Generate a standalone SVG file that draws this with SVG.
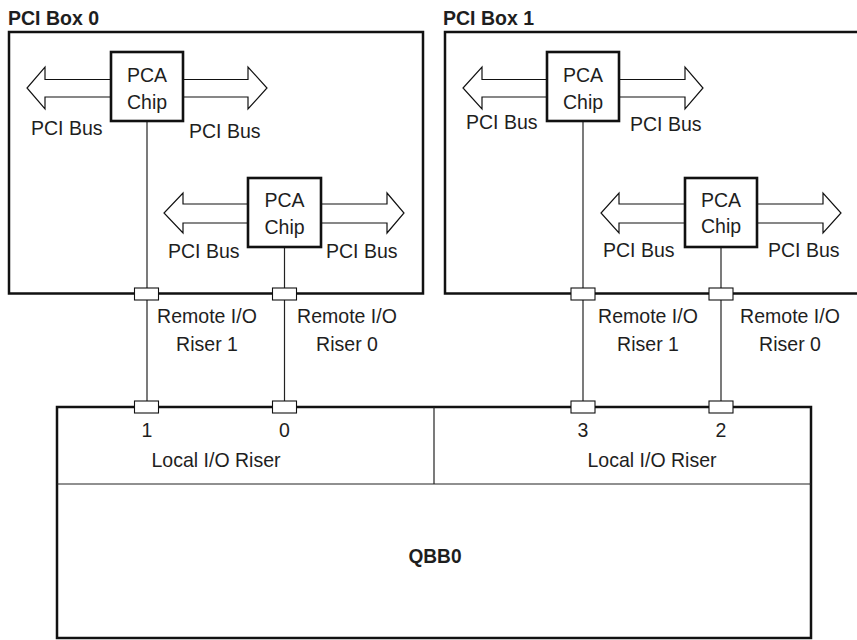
<svg xmlns="http://www.w3.org/2000/svg" width="857" height="640" viewBox="0 0 857 640">
<style>
text{font-family:"Liberation Sans",Arial,sans-serif;font-size:21px;fill:#1e1e1e}
.b{font-weight:bold}
.t{font-size:19.5px}
.m{text-anchor:middle}
.box{fill:none;stroke:#111;stroke-width:2.5}
.chip{fill:#fff;stroke:#111;stroke-width:2.6}
.arr{fill:#fff;stroke:#111;stroke-width:1.2;stroke-linejoin:miter}
.conn{fill:#fff;stroke:#111;stroke-width:1.1}
.ln{stroke:#222;stroke-width:1.2;fill:none}
</style>
<rect width="857" height="640" fill="#fff"/>
<g id="connectors">
<line class="ln" x1="147" y1="121" x2="147" y2="401"/>
<line class="ln" x1="284.5" y1="247" x2="284.5" y2="401"/>
<line class="ln" x1="583" y1="121" x2="583" y2="401"/>
<line class="ln" x1="721" y1="247" x2="721" y2="401"/>
</g>
<g id="pci-box-0">
<text class="b t" x="8" y="25">PCI Box 0</text>
<rect class="box" x="9" y="32" width="414" height="261.5"/>
</g>
<g id="pci-box-1">
<text class="b t" x="443" y="25">PCI Box 1</text>
<rect class="box" x="445" y="32" width="430" height="261.5"/>
</g>
<g id="box0-chip-a">
<polygon class="arr" points="111,79.5 45,79.5 45,67 27,88 45,109 45,97 111,97"/>
<polygon class="arr" points="183,79.5 248,79.5 248,67 267,88 248,109 248,97 183,97"/>
<rect class="chip" x="111" y="52" width="72" height="69"/>
<text class="m" transform="translate(147 82) scale(0.93 1)">PCA</text>
<text class="m" transform="translate(147 109) scale(0.93 1)">Chip</text>
<text transform="translate(31 135) scale(0.93 1)">PCI Bus</text>
<text transform="translate(189 138) scale(0.93 1)">PCI Bus</text>
</g>
<g id="box0-chip-b">
<polygon class="arr" points="248,204 183,204 183,193 164,213 183,233 183,223 248,223"/>
<polygon class="arr" points="321,204 387,204 387,193 404,213 387,233 387,223 321,223"/>
<rect class="chip" x="248" y="178" width="73" height="69"/>
<text class="m" transform="translate(284.5 207) scale(0.93 1)">PCA</text>
<text class="m" transform="translate(284.5 234) scale(0.93 1)">Chip</text>
<text transform="translate(168 258) scale(0.93 1)">PCI Bus</text>
<text transform="translate(326 258) scale(0.93 1)">PCI Bus</text>
</g>
<g id="box1-chip-a">
<polygon class="arr" points="547,79.5 482,79.5 482,67 463,88 482,109 482,97 547,97"/>
<polygon class="arr" points="619,79.5 685,79.5 685,67 703,88 685,109 685,97 619,97"/>
<rect class="chip" x="547" y="52" width="72" height="69"/>
<text class="m" transform="translate(583 82) scale(0.93 1)">PCA</text>
<text class="m" transform="translate(583 109) scale(0.93 1)">Chip</text>
<text transform="translate(466 129) scale(0.93 1)">PCI Bus</text>
<text transform="translate(630 131) scale(0.93 1)">PCI Bus</text>
</g>
<g id="box1-chip-b">
<polygon class="arr" points="685,204 619,204 619,193 601,213 619,233 619,223 685,223"/>
<polygon class="arr" points="757,204 823,204 823,193 841,213 823,233 823,223 757,223"/>
<rect class="chip" x="685" y="178" width="72" height="69"/>
<text class="m" transform="translate(721 207) scale(0.93 1)">PCA</text>
<text class="m" transform="translate(721 233) scale(0.93 1)">Chip</text>
<text transform="translate(603 257) scale(0.93 1)">PCI Bus</text>
<text transform="translate(768 257) scale(0.93 1)">PCI Bus</text>
</g>
<g id="qbb0">
<rect class="box" x="57" y="407" width="754" height="231"/>
<line class="ln" x1="434" y1="407" x2="434" y2="484"/>
<line class="ln" x1="57" y1="484" x2="811" y2="484"/>
<text class="m" transform="translate(216 467) scale(0.93 1)">Local I/O Riser</text>
<text class="m" transform="translate(652 467) scale(0.93 1)">Local I/O Riser</text>
<text class="m b" transform="translate(435 563) scale(0.91 1)">QBB0</text>
</g>
<g id="riser-labels">
<text class="m" transform="translate(207 323) scale(0.93 1)">Remote I/O</text>
<text class="m" transform="translate(207 351) scale(0.93 1)">Riser 1</text>
<text class="m" transform="translate(347 323) scale(0.93 1)">Remote I/O</text>
<text class="m" transform="translate(347 351) scale(0.93 1)">Riser 0</text>
<text class="m" transform="translate(648 323) scale(0.93 1)">Remote I/O</text>
<text class="m" transform="translate(648 351) scale(0.93 1)">Riser 1</text>
<text class="m" transform="translate(790 323) scale(0.93 1)">Remote I/O</text>
<text class="m" transform="translate(790 351) scale(0.93 1)">Riser 0</text>
<text class="m" transform="translate(147 437) scale(0.93 1)">1</text>
<text class="m" transform="translate(284.5 437) scale(0.93 1)">0</text>
<text class="m" transform="translate(583 437) scale(0.93 1)">3</text>
<text class="m" transform="translate(721 437) scale(0.93 1)">2</text>
</g>
<g id="ports">
<rect class="conn" x="134.5" y="288" width="24" height="12"/>
<rect class="conn" x="272.5" y="288" width="24" height="12"/>
<rect class="conn" x="571" y="288" width="24" height="12"/>
<rect class="conn" x="709" y="288" width="24" height="12"/>
<rect class="conn" x="134.5" y="401" width="24" height="12"/>
<rect class="conn" x="272.5" y="401" width="24" height="12"/>
<rect class="conn" x="571" y="401" width="24" height="12"/>
<rect class="conn" x="709" y="401" width="24" height="12"/>
</g>
</svg>
